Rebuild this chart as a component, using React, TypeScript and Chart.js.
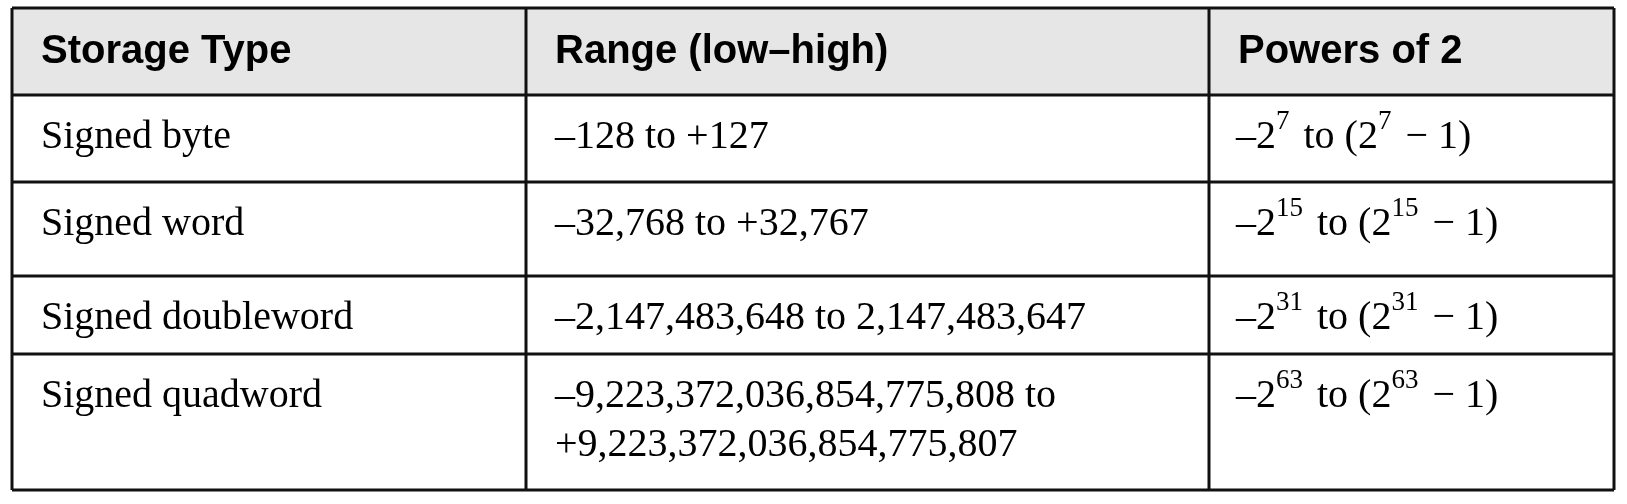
import React, { useEffect, useRef } from "react";
import { Chart, registerables } from "chart.js";

Chart.register(...registerables);

// ---- data ----
const headers: string[] = ["Storage Type", "Range (low–high)", "Powers of 2"];
const storageTypes: string[] = ["Signed byte", "Signed word", "Signed doubleword", "Signed quadword"];
const ranges: string[][] = [
  ["–128 to +127"],
  ["–32,768 to +32,767"],
  ["–2,147,483,648 to 2,147,483,647"],
  ["–9,223,372,036,854,775,808 to", "+9,223,372,036,854,775,807"],
];
const exponents: number[] = [7, 15, 31, 63];

// ---- layout (in scale units) ----
const colEdges = [12, 526, 1209, 1614];
const rowEdges = [8, 95, 182, 276, 354, 490];
const W = 1627;
const H = 504;

const SERIF = "40px 'Liberation Serif', 'Times New Roman', serif";
const SUP = "27px 'Liberation Serif', 'Times New Roman', serif";
const SANS_BOLD = "bold 40px 'Liberation Sans', Arial, sans-serif";

function drawPower(ctx: CanvasRenderingContext2D, x: number, y: number, n: number) {
  const parts: { t: string; sup: boolean }[] = [
    { t: "–2", sup: false },
    { t: String(n), sup: true },
    { t: " to (2", sup: false },
    { t: String(n), sup: true },
    { t: " − 1)", sup: false },
  ];
  let cx = x;
  for (const p of parts) {
    ctx.font = p.sup ? SUP : SERIF;
    ctx.fillText(p.t, cx, p.sup ? y - 19 : y);
    cx += ctx.measureText(p.t).width + (p.sup ? 4 : 0);
  }
}

const tablePlugin = {
  id: "tablePlugin",
  afterDraw(chart: any) {
    const ctx: CanvasRenderingContext2D = chart.ctx;
    const xs = chart.scales.x;
    const ys = chart.scales.y;
    const px = (v: number) => xs.getPixelForValue(v);
    const py = (v: number) => ys.getPixelForValue(v);
    ctx.save();
    // header background
    ctx.fillStyle = "#e6e6e6";
    ctx.fillRect(px(colEdges[0]), py(rowEdges[0]), px(colEdges[3]) - px(colEdges[0]), py(rowEdges[1]) - py(rowEdges[0]));

    ctx.fillStyle = "#000";
    ctx.textBaseline = "alphabetic";
    ctx.textAlign = "left";
    const padX = 29;
    // header text
    ctx.font = SANS_BOLD;
    headers.forEach((h, c) => {
      ctx.fillText(h, px(colEdges[c]) + padX, py(rowEdges[0]) + 55);
    });
    // body
    storageTypes.forEach((s, r) => {
      const top = py(rowEdges[r + 1]);
      const base = top + 53;
      ctx.font = SERIF;
      ctx.fillText(s, px(colEdges[0]) + padX, base);
      ranges[r].forEach((line, li) => {
        ctx.font = SERIF;
        ctx.fillText(line, px(colEdges[1]) + padX, base + li * 49);
      });
      drawPower(ctx, px(colEdges[2]) + padX - 2, base, exponents[r]);
    });

    // grid lines
    ctx.strokeStyle = "#111";
    ctx.lineWidth = 3;
    ctx.beginPath();
    rowEdges.forEach((y) => {
      ctx.moveTo(px(colEdges[0]), py(y));
      ctx.lineTo(px(colEdges[3]), py(y));
    });
    colEdges.forEach((x) => {
      ctx.moveTo(px(x), py(rowEdges[0]));
      ctx.lineTo(px(x), py(rowEdges[rowEdges.length - 1]));
    });
    ctx.stroke();
    ctx.restore();
  },
};

export default function App() {
  const ref = useRef<HTMLCanvasElement | null>(null);
  useEffect(() => {
    document.body.style.margin = "0";
    if (!ref.current) return;
    const chart = new Chart(ref.current, {
      type: "scatter",
      data: { datasets: [] },
      options: {
        animation: false,
        responsive: true,
        maintainAspectRatio: false,
        layout: { padding: 0 },
        scales: {
          x: { type: "linear", min: 0, max: W, display: false },
          y: { type: "linear", min: 0, max: H, reverse: true, display: false },
        },
        plugins: { legend: { display: false }, tooltip: { enabled: false } },
      },
      plugins: [tablePlugin],
    });
    return () => chart.destroy();
  }, []);
  return (
    <div style={{ width: W, height: H, position: "relative", background: "#fff" }}>
      <canvas ref={ref} />
    </div>
  );
}
